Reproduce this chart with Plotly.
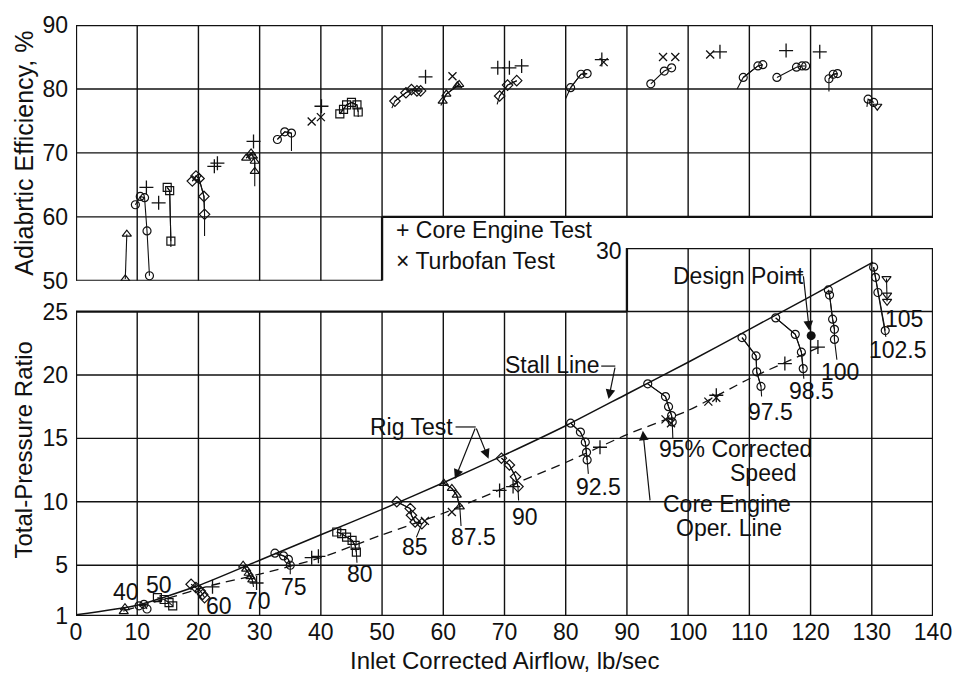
import plotly.graph_objects as go

# ---------------------------------------------------------------------------
# Compressor map data: inlet corrected airflow (lb/sec) vs total-pressure
# ratio (lower panel) and adiabatic efficiency (upper panel).
# ---------------------------------------------------------------------------

# Rig-test points on each corrected-speed line (lower panel)
pr_speed = (["40"] * 2 + ["50"] * 3 + ["55"] * 4 + ["60"] * 5 + ["70"] * 5 + ["75"] * 4
            + ["80"] * 6 + ["85"] * 5 + ["87.5"] * 4 + ["90"] * 4 + ["92.5"] * 5 + ["95"] * 5
            + ["97.5"] * 4 + ["98.5"] * 4 + ["100"] * 5 + ["102.5"] * 4 + ["105"] * 3)
pr_flow = [7.8, 8.0,
           10.3, 11.1, 11.6,
           13.3, 14.4, 15.2, 15.8,
           18.8, 19.6, 20.3, 20.7, 21.0,
           27.3, 27.8, 28.2, 28.5, 28.8,
           32.5, 33.9, 34.7, 35.0,
           42.6, 43.4, 44.2, 45.1, 45.6, 45.8,
           52.4, 54.6, 54.8, 55.4, 56.5,
           60.1, 61.4, 62.2, 62.7,
           69.5, 70.8, 71.8, 72.2,
           80.8, 82.4, 83.2, 83.4, 83.5,
           93.4, 96.3, 96.8, 97.3, 97.4,
           108.8, 111.1, 111.2, 111.9,
           114.3, 117.5, 118.5, 118.8,
           122.9, 123.1, 123.6, 123.9, 123.9,
           130.3, 130.6, 131.0, 132.2,
           132.4, 132.5, 132.5]
pr_ratio = [1.35, 1.65,
            1.8, 1.92, 1.55,
            2.45, 2.3, 2.05, 1.8,
            3.5, 3.24, 2.97, 2.7, 2.45,
            5.0, 4.7, 4.37, 4.1, 3.84,
            5.95, 5.74, 5.47, 5.0,
            7.62, 7.49, 7.22, 6.96, 6.56, 6.03,
            10.0, 9.47, 8.94, 8.41, 8.28,
            11.46, 11.06, 10.53, 9.6,
            13.44, 12.9, 11.98, 11.2,
            16.2, 15.5, 14.7, 13.9, 13.3,
            19.3, 18.3, 17.5, 16.8, 16.3,
            22.95, 21.5, 20.25, 19.1,
            24.5, 23.2, 21.8, 20.5,
            26.7, 26.3, 24.4, 23.6, 22.8,
            28.5, 27.7, 26.5, 23.5,
            27.6, 26.3, 25.8]

# Leader ends of the speed lines running down to their labels
pr_tail_speed = ["70", "75", "80", "85", "87.5", "90", "92.5", "95", "97.5", "98.5", "100", "102.5"]
pr_tail_flow = [29.0, 35.0, 45.9, 55.6, 62.9, 72.3, 83.7, 97.5, 112.0, 118.9, 124.3, 132.3]
pr_tail_ratio = [3.3, 4.3, 5.2, 7.2, 8.1, 10.1, 12.2, 15.0, 18.3, 19.7, 21.2, 23.0]

# Speed-line labels (percent corrected speed)
speed_label_text = ["40", "50", "60", "70", "75", "80", "85", "87.5", "90",
                    "92.5", "97.5", "98.5", "100", "102.5", "105"]
speed_label_flow = [8.1, 13.6, 23.4, 29.7, 35.6, 46.4, 55.4, 64.9, 73.3,
                    85.3, 113.4, 120.1, 124.8, 134.3, 135.3]
speed_label_ratio = [2.9, 3.45, 1.8, 2.2, 3.25, 4.3, 6.4, 7.2, 8.8,
                     11.2, 17.1, 18.7, 20.2, 22.0, 24.4]

# Stall line and core-engine operating line
stall_flow = [0, 10, 20, 30, 40, 50, 60, 70, 80, 90, 100, 110, 120, 130.2]
stall_ratio = [1.1, 1.85, 3.4, 5.4, 7.4, 9.4, 11.5, 13.7, 16.0, 18.5, 21.0, 23.6, 26.2, 28.9]
oper_flow = [8, 15, 22, 30, 40, 50, 60, 70, 80, 90, 100, 110, 121.5]
oper_ratio = [1.45, 2.4, 3.4, 4.3, 5.6, 7.4, 9.1, 11.1, 13.1, 15.3, 17.2, 19.7, 22.2]

# Engine test points on the operating line
core_pr_flow = [22.3, 29.5, 38.5, 39.6, 69.2, 71.4, 85.6, 104.6, 115.8, 121.2]
core_pr_ratio = [3.3, 3.6, 5.6, 5.7, 10.9, 11.2, 14.3, 18.4, 20.9, 22.2]
fan_pr_flow = [57.0, 61.4, 96.3, 97.2, 103.3, 104.6]
fan_pr_ratio = [8.5, 9.2, 16.5, 16.2, 17.9, 18.2]

# Design point
design_flow = [120.1]
design_ratio = [23.1]

# Rig-test adiabatic efficiency on each speed line (upper panel)
eff_speed = (["40"] * 2 + ["50"] * 5 + ["55"] * 3 + ["60"] * 5 + ["70"] * 5 + ["75"] * 3
             + ["80"] * 6 + ["85"] * 5 + ["87.5"] * 4 + ["90"] * 3 + ["92.5"] * 3 + ["95"] * 3
             + ["97.5"] * 3 + ["98.5"] * 4 + ["100"] * 3 + ["102.5"] * 2 + ["105"] * 1)
eff_flow = [8.3, 8.05,
            9.7, 10.5, 11.2, 11.6, 12.0,
            14.9, 15.3, 15.5,
            19.0, 19.6, 20.1, 20.9, 21.0,
            27.8, 28.6, 28.9, 29.2, 29.2,
            32.9, 34.1, 35.2,
            43.1, 43.7, 44.2, 45.0, 45.9, 46.1,
            52.1, 53.9, 54.8, 55.7, 56.3,
            59.9, 60.5, 62.3, 62.6,
            69.2, 70.5, 72.0,
            80.8, 82.5, 83.5,
            93.9, 96.1, 97.3,
            109.0, 111.4, 112.2,
            114.5, 117.7, 118.6, 119.2,
            123.0, 123.7, 124.4,
            129.4, 130.3,
            130.9]
eff_value = [57.3, 50.3,
             61.9, 63.2, 63.0, 57.8, 50.8,
             64.6, 64.1, 56.2,
             65.6, 66.4, 66.0, 63.2, 60.4,
             69.2, 70.0, 69.5, 68.7, 67.1,
             72.1, 73.3, 73.1,
             76.1, 76.8, 77.5, 77.9, 77.5, 76.4,
             78.1, 79.4, 79.9, 79.7, 79.7,
             78.1, 79.2, 80.5, 80.7,
             78.9, 80.6, 81.3,
             80.2, 82.3, 82.4,
             80.8, 82.8, 83.3,
             81.8, 83.6, 83.8,
             81.8, 83.4, 83.6, 83.6,
             81.6, 82.3, 82.4,
             78.4, 77.9,
             77.3]

# Extensions of the efficiency speed lines beyond the plotted points
eff_tail_speed = ["55", "60", "70", "75", "80", "85", "87.5", "90", "92.5", "97.5", "100", "102.5"]
eff_tail_flow = [15.5, 21.0, 29.2, 35.2, 46.1, 51.6, 59.6, 68.8, 80.0, 108.0, 123.0, 129.2]
eff_tail_value = [55.3, 57.0, 64.8, 70.3, 75.6, 77.0, 77.4, 77.6, 78.5, 80.0, 79.6, 77.2]

# Engine test efficiencies
core_eff_flow = [11.5, 13.5, 22.6, 23.1, 29.0, 40.1, 57.1, 68.9, 70.8, 72.8, 85.9, 105.2, 116.0, 121.5]
core_eff_value = [64.6, 62.2, 67.9, 68.4, 71.8, 77.3, 81.9, 83.3, 83.3, 83.6, 84.6, 85.8, 86.0, 85.8]
fan_eff_flow = [38.5, 40.0, 61.5, 86.2, 95.9, 97.9, 103.6]
fan_eff_value = [74.9, 75.6, 82.0, 84.2, 85.0, 85.0, 85.4]

# Marker symbol used for each speed line
speed_symbols = {
    "40": "triangle-up-open", "50": "circle-open", "55": "square-open",
    "60": "diamond-open", "70": "triangle-up-open", "75": "circle-open",
    "80": "square-open", "85": "diamond-open", "87.5": "triangle-up-open",
    "90": "diamond-open", "92.5": "circle-open", "95": "circle-open",
    "97.5": "circle-open", "98.5": "circle-open", "100": "circle-open",
    "102.5": "circle-open", "105": "triangle-down-open",
}

FONT = "Liberation Sans, Arial, Helvetica, sans-serif"
INK = "#111111"

fig = go.Figure()


def add_speed_lines(speeds, flows, values, tails, yaxis):
    tail_speed, tail_flow, tail_val = tails
    for s in dict.fromkeys(speeds):
        xs = [f for sp, f in zip(speeds, flows) if sp == s]
        ys = [v for sp, v in zip(speeds, values) if sp == s]
        if s in tail_speed:
            i = tail_speed.index(s)
            tx, ty = tail_flow[i], tail_val[i]
            # attach the extension to the nearer end of the line
            d0 = abs(xs[0] - tx) + abs(ys[0] - ty)
            d1 = abs(xs[-1] - tx) + abs(ys[-1] - ty)
            lx = [tx] + xs if d0 < d1 else xs + [tx]
            ly = [ty] + ys if d0 < d1 else ys + [ty]
            fig.add_trace(go.Scatter(x=lx, y=ly, mode="lines", yaxis=yaxis,
                                     line=dict(color=INK, width=1.1),
                                     hoverinfo="skip", showlegend=False))
        fig.add_trace(go.Scatter(
            x=xs, y=ys, mode="lines+markers", yaxis=yaxis, showlegend=False,
            line=dict(color=INK, width=1.1),
            marker=dict(symbol=speed_symbols[s], size=8, color=INK,
                        line=dict(color=INK, width=1.2)),
            name=s + "% speed"))


# ---- lower panel: pressure ratio ----
fig.add_trace(go.Scatter(x=stall_flow, y=stall_ratio, mode="lines", yaxis="y",
                         line=dict(color=INK, width=1.5, shape="spline", smoothing=0.6),
                         showlegend=False, name="Stall line"))
fig.add_trace(go.Scatter(x=oper_flow, y=oper_ratio, mode="lines", yaxis="y",
                         line=dict(color=INK, width=1.3, dash="9px,6px", shape="spline", smoothing=0.6),
                         showlegend=False, name="Core engine operating line"))
add_speed_lines(pr_speed, pr_flow, pr_ratio, (pr_tail_speed, pr_tail_flow, pr_tail_ratio), "y")
fig.add_trace(go.Scatter(x=core_pr_flow, y=core_pr_ratio, mode="markers", yaxis="y",
                         marker=dict(symbol="cross-thin-open", size=10, color=INK,
                                     line=dict(color=INK, width=1.3)),
                         showlegend=False, name="Core Engine Test"))
fig.add_trace(go.Scatter(x=fan_pr_flow, y=fan_pr_ratio, mode="markers", yaxis="y",
                         marker=dict(symbol="x-thin-open", size=8, color=INK,
                                     line=dict(color=INK, width=1.3)),
                         showlegend=False, name="Turbofan Test"))
fig.add_trace(go.Scatter(x=design_flow, y=design_ratio, mode="markers", yaxis="y",
                         marker=dict(symbol="circle", size=9, color=INK),
                         showlegend=False, name="Design Point"))

# ---- upper panel: efficiency ----
add_speed_lines(eff_speed, eff_flow, eff_value, (eff_tail_speed, eff_tail_flow, eff_tail_value), "y2")
fig.add_trace(go.Scatter(x=core_eff_flow, y=core_eff_value, mode="markers", yaxis="y2",
                         marker=dict(symbol="cross-thin-open", size=10, color=INK,
                                     line=dict(color=INK, width=1.3)),
                         showlegend=False, name="Core Engine Test"))
fig.add_trace(go.Scatter(x=fan_eff_flow, y=fan_eff_value, mode="markers", yaxis="y2",
                         marker=dict(symbol="x-thin-open", size=8, color=INK,
                                     line=dict(color=INK, width=1.3)),
                         showlegend=False, name="Turbofan Test"))

# ---- grid and panel outlines ----
shapes = []


def seg(x0, y0, x1, y1, yref, width):
    shapes.append(dict(type="line", xref="x", yref=yref, x0=x0, y0=y0, x1=x1, y1=y1,
                       layer="below", line=dict(color=INK, width=width)))


GRID, EDGE = 1.4, 2.3
x_grid = [10, 20, 30, 40, 50, 60, 70, 80, 90, 100, 110, 120, 130]
pr_grid = [5, 10, 15, 20]
eff_grid = [60, 70, 80]

# lower panel (1..25, raised to 30 beyond 90 lb/sec)
for xv in x_grid:
    seg(xv, 1, xv, 30 if xv >= 90 else 25, "y", GRID)
for yv in pr_grid:
    seg(0, yv, 140, yv, "y", GRID)
seg(90, 25, 140, 25, "y", GRID)
seg(0, 25, 90, 25, "y", EDGE)
seg(90, 25, 90, 30, "y", EDGE)
seg(90, 30, 140, 30, "y", EDGE)
seg(0, 1, 0, 25, "y", EDGE)
seg(140, 1, 140, 30, "y", EDGE)
seg(0, 1, 140, 1, "y", EDGE)

# upper panel (50..90 below 50 lb/sec, 60..90 beyond)
for xv in x_grid:
    seg(xv, 50 if xv < 50 else 60, xv, 90, "y2", GRID)
for yv in eff_grid:
    seg(0, yv, 140, yv, "y2", GRID)
seg(50, 60, 140, 60, "y2", EDGE)
seg(50, 50, 50, 60, "y2", EDGE)
seg(0, 50, 50, 50, "y2", EDGE)
seg(0, 90, 140, 90, "y2", EDGE)
seg(0, 50, 0, 90, "y2", EDGE)
seg(140, 60, 140, 90, "y2", EDGE)

# leader lines with bends
seg(62.0, 15.9, 65.3, 15.9, "y", 1.2)     # Rig Test
seg(85.8, 20.7, 88.1, 20.7, "y", 1.2)     # Stall Line
seg(116.2, 27.9, 118.8, 27.9, "y", 1.2)   # Design Point
for sh in shapes[-3:]:
    sh["layer"] = "above"

annotations = []


def text(x, y, s, yref="y", size=23, xanchor="center", **kw):
    annotations.append(dict(x=x, y=y, xref="x", yref=yref, text=s, showarrow=False,
                            xanchor=xanchor, yanchor="middle",
                            font=dict(family=FONT, size=size, color=INK), **kw))


def arrow(x0, y0, x1, y1):
    annotations.append(dict(x=x1, y=y1, ax=x0, ay=y0, xref="x", yref="y",
                            axref="x", ayref="y", text="", showarrow=True,
                            arrowhead=2, arrowsize=1.6, arrowwidth=1.2,
                            arrowcolor=INK, standoff=0))


for s, fx, fy in zip(speed_label_text, speed_label_flow, speed_label_ratio):
    text(fx, fy, s)

text(54.8, 15.9, "Rig Test")
arrow(65.3, 15.9, 61.9, 11.8)
arrow(65.3, 15.9, 67.4, 13.4)
text(77.8, 20.8, "Stall Line")
arrow(88.1, 20.7, 87.0, 18.1)
text(108.2, 27.8, "Design Point")
arrow(118.8, 27.9, 119.8, 23.5)
text(107.8, 14.2, "95% Corrected")
text(112.3, 12.25, "Speed")
text(106.3, 9.8, "Core Engine")
text(106.6, 7.95, "Oper. Line")
arrow(93.8, 10.0, 92.6, 15.6)

# tick label for the raised part of the lower panel
text(89.6, 29.8, "30", size=23, xanchor="right")

# key
text(52.0, 57.9, "+ Core Engine Test", yref="y2", xanchor="left")
text(52.0, 53.1, "× Turbofan Test", yref="y2", xanchor="left")

# axis titles
annotations.append(dict(x=-0.061, y=70, xref="paper", yref="y2", text="Adiabrtic Efficiency, %",
                        textangle=-90, showarrow=False, xanchor="center", yanchor="middle",
                        font=dict(family=FONT, size=25, color=INK)))
annotations.append(dict(x=-0.061, y=14.1, xref="paper", yref="y", text="Total-Pressure Ratio",
                        textangle=-90, showarrow=False, xanchor="center", yanchor="middle",
                        font=dict(family=FONT, size=24, color=INK)))
annotations.append(dict(x=70, y=-0.0745, xref="x", yref="paper", text="Inlet Corrected Airflow, lb/sec",
                        showarrow=False, xanchor="center", yanchor="middle",
                        font=dict(family=FONT, size=24, color=INK)))

tick_font = dict(family=FONT, size=23, color=INK)
fig.update_layout(
    width=964, height=675,
    margin=dict(l=76, r=23, t=20, b=59),
    paper_bgcolor="white", plot_bgcolor="rgba(0,0,0,0)",
    showlegend=False,
    shapes=shapes, annotations=annotations,
    xaxis=dict(range=[0, 140], tickvals=list(range(0, 141, 10)), showgrid=False,
               zeroline=False, showline=False, ticks="", tickfont=tick_font,
               ticklabelstandoff=0, fixedrange=True),
    yaxis=dict(domain=[0, 0.6225], range=[1, 30], tickvals=[1, 5, 10, 15, 20, 25],
               showgrid=False, zeroline=False, showline=False, ticks="",
               tickfont=tick_font, ticklabelstandoff=7, fixedrange=True),
    yaxis2=dict(domain=[0.5671, 1], range=[50, 90], tickvals=[50, 60, 70, 80, 90],
                anchor="x", showgrid=False, zeroline=False, showline=False, ticks="",
                tickfont=tick_font, ticklabelstandoff=7, fixedrange=True),
)

fig.write_html("out.html")
